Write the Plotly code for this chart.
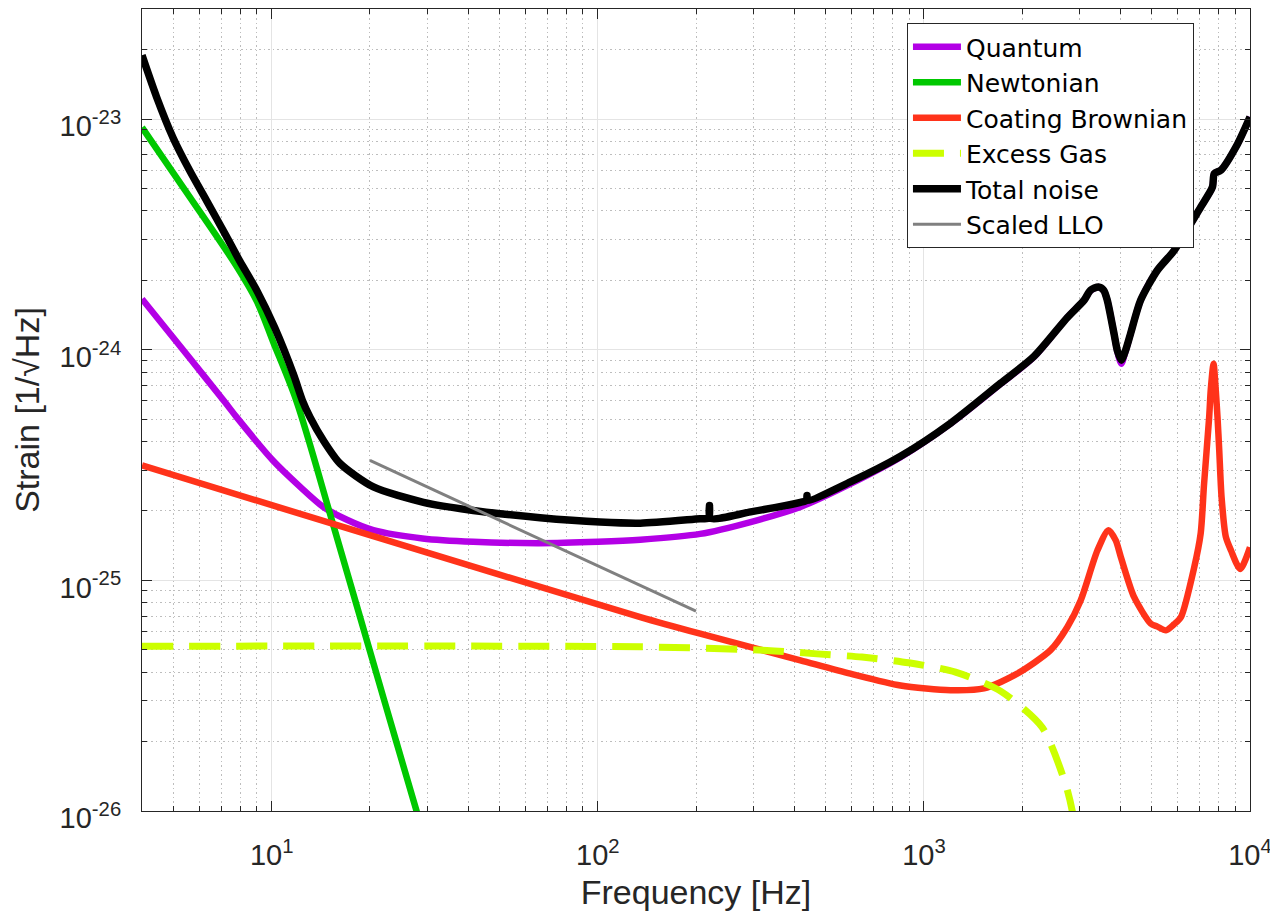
import math
import plotly.graph_objects as go

# ---- data (frequency in Hz, strain in 1/sqrt(Hz)) ----
quantum_f = [4, 5.6, 7.2, 7.8, 10.1, 12.2, 14.4, 17, 20.5, 29, 41.5, 66,
             100, 135, 206, 294, 418, 595, 848, 1207, 1718, 2175,
             2754, 3100, 3240, 3430, 3560, 3650, 3830, 3920, 4030, 4150,
             4300, 4620, 5200, 5850, 7060, 7670, 7770, 8140, 9160, 10000]
quantum_s = [1.66e-24, 9.2e-25, 5.9e-25, 5.1e-25, 3.3e-25, 2.55e-25, 2.08e-25, 1.83e-25, 1.65e-25, 1.52e-25, 1.47e-25, 1.45e-25,
             1.47e-25, 1.50e-25, 1.59e-25, 1.79e-25, 2.08e-25, 2.62e-25, 3.42e-25, 4.78e-25, 7.1e-25, 9.3e-25,
             1.38e-24, 1.64e-24, 1.80e-24, 1.87e-24, 1.80e-24, 1.64e-24, 1.17e-24, 9.8e-25, 8.7e-25, 9.8e-25,
             1.17e-24, 1.64e-24, 2.21e-24, 2.69e-24, 4.15e-24, 5.07e-24, 5.8e-24, 6.0e-24, 7.8e-24, 1.02e-23]

newton_f = [4, 5.6, 7.8, 9, 10.1, 11.9, 15.4, 22, 27.8, 30]
newton_s = [9.2e-24, 4.6e-24, 2.3e-24, 1.62e-24, 1.08e-24, 6.0e-25, 1.76e-25, 3.1e-26, 1.0e-26, 6.9e-27]

coating_f = [4, 20, 135, 206, 418, 595, 848, 1207, 1528, 1933,
             2445, 2754, 3027, 3406, 3680, 3875, 4018, 4409, 4962, 5200,
             5520, 5850, 6140, 6745, 7060, 7230, 7495, 7580, 7730, 7850,
             7950, 8047, 8180, 8434, 8740, 9330, 10000]
coating_s = [3.15e-25, 1.57e-25, 6.93e-26, 5.87e-26, 4.5e-26, 3.94e-26, 3.5e-26, 3.34e-26, 3.4e-26, 3.94e-26,
             4.98e-26, 6.28e-26, 8.2e-26, 1.35e-25, 1.65e-25, 1.49e-25, 1.26e-25, 8.47e-26, 6.49e-26, 6.3e-26,
             6.07e-26, 6.45e-26, 6.93e-26, 1.14e-25, 1.6e-25, 2.62e-25, 5.1e-25, 6.7e-25, 8.7e-25, 6.7e-25,
             5.1e-25, 3.67e-25, 2.3e-25, 1.54e-25, 1.35e-25, 1.12e-25, 1.39e-25]

gas_f = [4, 135, 330, 470, 645, 898, 1250, 1718, 2307, 2723, 2850, 2950]
gas_s = [5.18e-26, 5.15e-26, 4.97e-26, 4.8e-26, 4.65e-26, 4.39e-26, 4.0e-26, 3.31e-26, 2.3e-26, 1.3e-26, 1.0e-26, 7e-27]

total_f = [4, 4.43, 4.98, 5.6, 6.31, 7.26, 7.98, 8.97, 10.2, 11.7,
           12.4, 13.1, 14.4, 16.2, 20.5, 29.2, 41.5, 66.5, 101.6, 135,
           206, 219, 220, 221, 294, 418, 437, 438, 439, 595,
           848, 1207, 1718, 2175, 2754, 3100, 3240, 3430, 3560, 3650,
           3830, 3920, 4030, 4150, 4300, 4620, 5200, 5850, 7060, 7670,
           7770, 8140, 9160, 10000]
total_s = [1.89e-23, 1.25e-23, 8.3e-24, 5.98e-24, 4.43e-24, 3.1e-24, 2.42e-24, 1.82e-24, 1.25e-24, 7.7e-25,
           6.05e-25, 5.1e-25, 4.04e-25, 3.21e-25, 2.54e-25, 2.18e-25, 2.01e-25, 1.87e-25, 1.79e-25, 1.77e-25,
           1.85e-25, 1.86e-25, 2.11e-25, 1.86e-25, 1.98e-25, 2.18e-25, 2.22e-25, 2.33e-25, 2.22e-25, 2.67e-25,
           3.45e-25, 4.8e-25, 7.15e-25, 9.35e-25, 1.38e-24, 1.64e-24, 1.81e-24, 1.87e-24, 1.81e-24, 1.64e-24,
           1.17e-24, 9.9e-25, 9.0e-25, 9.9e-25, 1.17e-24, 1.64e-24, 2.21e-24, 2.69e-24, 4.15e-24, 5.07e-24,
           5.8e-24, 6.0e-24, 7.8e-24, 1.02e-23]

llo_f = [20, 200]
llo_s = [3.31e-25, 7.35e-26]

x_tickvals = [10, 100, 1000, 10000]
x_ticktext = ["10<sup>1</sup>", "10<sup>2</sup>", "10<sup>3</sup>", "10<sup>4</sup>"]
y_tickvals = [1e-26, 1e-25, 1e-24, 1e-23]
y_ticktext = ["10<sup>-26</sup>", "10<sup>-25</sup>", "10<sup>-24</sup>", "10<sup>-23</sup>"]

x_range = [4, 10000]
y_range = [1e-26, 3e-23]

# ---- figure ----
FONT = "Liberation Sans, Arial, Helvetica, sans-serif"
LEGFONT = "DejaVu Sans, Liberation Sans, Arial, sans-serif"
AX = "#262626"

fig = go.Figure()
fig.add_trace(go.Scatter(x=quantum_f, y=quantum_s, name="Quantum", mode="lines",
                         line=dict(color="#b300e6", width=6.5, shape="spline", smoothing=0.8)))
fig.add_trace(go.Scatter(x=newton_f, y=newton_s, name="Newtonian", mode="lines",
                         line=dict(color="#00c800", width=6.5, shape="spline", smoothing=0.9)))
fig.add_trace(go.Scatter(x=coating_f, y=coating_s, name="Coating Brownian", mode="lines",
                         line=dict(color="#ff331a", width=6.5, shape="spline", smoothing=0.7)))
fig.add_trace(go.Scatter(x=gas_f, y=gas_s, name="Excess Gas", mode="lines",
                         line=dict(color="#ccff00", width=7, dash="31px,16px", shape="spline", smoothing=0.7)))
fig.add_trace(go.Scatter(x=total_f, y=total_s, name="Total noise", mode="lines",
                         line=dict(color="black", width=7.5, shape="spline", smoothing=0.7)))
fig.add_trace(go.Scatter(x=llo_f, y=llo_s, name="Scaled LLO", mode="lines",
                         line=dict(color="#808080", width=3)))

minor_x = [m * 10 ** k for k in range(0, 4) for m in range(2, 10) if x_range[0] < m * 10 ** k < x_range[1]]
minor_y = [m * 10.0 ** k for k in range(-26, -22) for m in range(2, 10) if y_range[0] < m * 10.0 ** k < y_range[1]]

common = dict(
    type="log", showline=True, linecolor=AX, linewidth=1, mirror="ticks",
    ticks="inside", ticklen=10, tickwidth=1, tickcolor=AX,
    showgrid=True, gridcolor="#e4e4e4", gridwidth=1,
    tickfont=dict(family=FONT, size=29, color=AX),
)
minor_common = dict(tickmode="array", ticks="inside", ticklen=5, tickcolor=AX,
                    showgrid=True, gridcolor="#bdbdbd", griddash="1.5px,3px", gridwidth=1)

fig.update_xaxes(
    range=[math.log10(x_range[0]), math.log10(x_range[1])],
    tickmode="array", tickvals=x_tickvals, ticktext=x_ticktext,
    minor=dict(tickvals=minor_x, **minor_common),
    title=dict(text="Frequency [Hz]", font=dict(family=FONT, size=34, color=AX), standoff=10),
    ticklabelstandoff=18,
    **common,
)
fig.update_yaxes(
    range=[math.log10(y_range[0]), math.log10(y_range[1])],
    tickmode="array", tickvals=y_tickvals, ticktext=y_ticktext,
    minor=dict(tickvals=minor_y, **minor_common),
    title=dict(text="Strain [1/√Hz]", font=dict(family=FONT, size=34, color=AX), standoff=12),
    ticklabelstandoff=14, ticklabelshift=7,
    **common,
)

# the page body adds an 8px offset, so the figure is 8px smaller and margins shifted
fig.update_layout(
    width=1270, height=906,
    margin=dict(l=134, r=28, t=1, b=103, autoexpand=False),
    plot_bgcolor="white", paper_bgcolor="white",
    font=dict(family=FONT, color=AX),
    legend=dict(x=0.6904, y=0.9825, xanchor="left", yanchor="top",
                bgcolor="white", bordercolor=AX, borderwidth=1,
                font=dict(family=LEGFONT, size=25, color="black"),
                itemwidth=48, tracegroupgap=0),
)

fig.write_html("out.html")
